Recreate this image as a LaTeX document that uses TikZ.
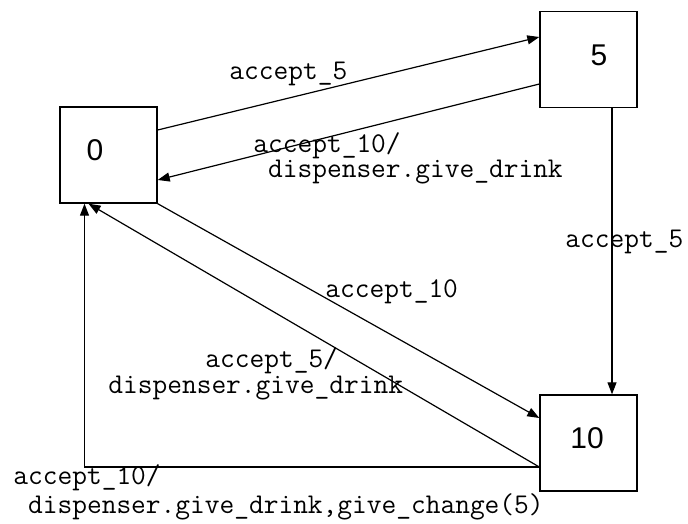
\documentclass[tikz,border=0pt]{standalone}
\usepackage{fontspec}
\setsansfont{Liberation Sans}
\usepackage{tikz}
\usetikzlibrary{arrows.meta, calc}

\begin{document}
\begin{tikzpicture}[x=0.5pt, y=-0.5pt, >={Triangle[length=6pt, width=4.5pt]},
    state/.style={draw, line width=0.7pt, minimum width=48.5pt, minimum height=48pt, inner sep=0pt},
    digit/.style={font=\sffamily\fontsize{15}{18}\selectfont},
    trans/.style={->, line width=0.6pt},
    lbl/.style={inner sep=0pt, anchor=base west, align=left, font=\ttfamily\fontsize{14.3}{13}\selectfont}]
    \useasboundingbox (0,0) rectangle (688,523);

    \node[state, label={[digit, xshift=-6.75pt, yshift=2.5pt]center:0}] (s0) at (108.5,155) {};
    \node[state, label={[digit, xshift=5.25pt, yshift=2.25pt]center:5}] (s5) at (588.5,59.5) {};
    \node[state, label={[digit, xshift=-0.75pt, yshift=2.5pt]center:10}] (s10) at (588.5,443) {};

    \draw[trans] ($(s0.east)+(0,-25)$) -- ($(s5.west)+(0,-22.5)$);
    \draw[trans] ($(s5.west)+(0,24.5)$) -- ($(s0.east)+(0,25)$);
    \draw[trans] ($(s5.south)+(23.5,0)$) -- ($(s10.north)+(23.5,0)$);
    \draw[trans] (s0.south east) -- ($(s10.west)+(0,-25)$);
    \draw[trans] ($(s10.west)+(0,24)$) -- ($(s0.south)+(-20,0)$);
    \draw[trans] ($(s10.west)+(0,24)$) -| ($(s0.south)+(-24,0)$);

    % multi-line labels: base is the last line
    \node[lbl] (a05) at (229,80) {accept\_5};
    \node[lbl] (a50) at (253,178) {accept\_10/\\\hphantom{a}dispenser.give\_drink};
    \node[lbl] (a510) at (565,247) {accept\_5};
    \node[lbl] (a010) at (325,297) {accept\_10};
    \node[lbl] (a100) at (108,393) {\hspace*{48.5pt}accept\_5/\\dispenser.give\_drink};
    \node[lbl] (a100b) at (13,513) {accept\_10/\\\hphantom{a}dispenser.give\_drink,give\_change(5)};
\end{tikzpicture}
\end{document}
